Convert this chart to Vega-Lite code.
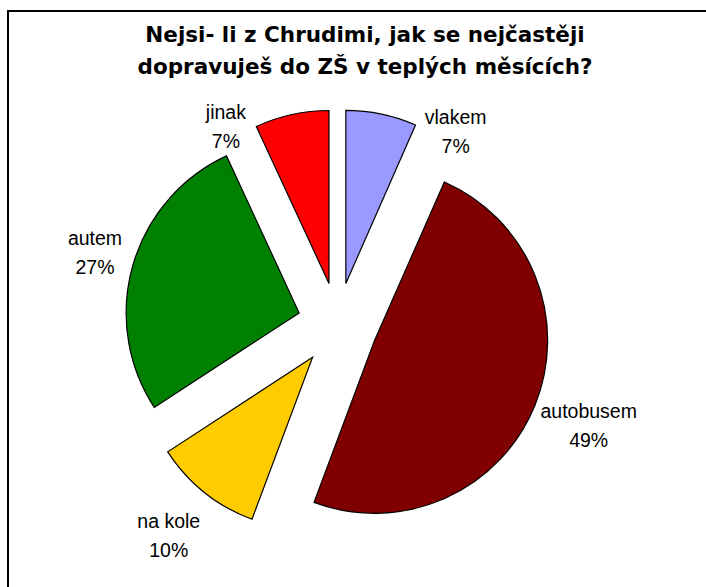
{
  "$schema": "https://vega.github.io/schema/vega-lite/v6.json",
  "width": 700,
  "height": 578,
  "autosize": {"type": "none"},
  "padding": {"left": 8, "top": 11, "right": -2, "bottom": -2},
  "background": "white",
  "config": {"view": {"stroke": null}},
  "title": {
    "text": ["Nejsi- li z Chrudimi, jak se nejčastěji", "dopravuješ do ZŠ v teplých měsících?"],
    "font": "DejaVu Sans",
    "fontWeight": "bold",
    "fontSize": 21.5,
    "lineHeight": 32,
    "color": "black",
    "anchor": "middle",
    "frame": "group",
    "baseline": "alphabetic",
    "offset": -85.2,
    "dx": 7
  },
  "layer": [
    {
      "data": {"values": [{"frame": "border"}]},
      "mark": {"type": "rect", "filled": false, "stroke": "black", "strokeWidth": 2},
      "encoding": {}
    },
    {
      "data": {
        "values": [
          {"cat": "vlakem", "value": 6.6, "order": 1},
          {"cat": "autobusem", "value": 49.1, "order": 2},
          {"cat": "na kole", "value": 10.1, "order": 3},
          {"cat": "autem", "value": 27.3, "order": 4},
          {"cat": "jinak", "value": 6.9, "order": 5}
        ]
      },
      "transform": [
        {"stack": "value", "groupby": [], "sort": [{"field": "order"}], "as": ["v0", "v1"]},
        {"calculate": "(datum.v0 + datum.v1) / 2", "as": "mid"},
        {"calculate": "datum.mid + (datum.mid < 8 ? 6.75 : datum.mid > 92 ? -5.9 : 0)", "as": "lmid"},
        {"calculate": "datum.cat + '\\n' + format(datum.value, '.0f') + '%'", "as": "label"}
      ],
      "layer": [
        {
          "mark": {
            "type": "arc",
            "outerRadius": 173,
            "stroke": "black",
            "strokeWidth": 1.2,
            "xOffset": {"expr": "-20.4 + 40 * sin(2 * PI * datum.mid / 100)"},
            "yOffset": {"expr": "24.5 - 42 * cos(2 * PI * datum.mid / 100)"}
          },
          "encoding": {
            "theta": {"field": "v0", "type": "quantitative", "stack": null, "scale": {"domain": [0, 100]}},
            "theta2": {"field": "v1"},
            "color": {
              "field": "cat",
              "type": "nominal",
              "scale": {
                "domain": ["vlakem", "autobusem", "na kole", "autem", "jinak"],
                "range": ["#9999FF", "#800000", "#FFCC00", "#008000", "#FF0000"]
              },
              "legend": null
            }
          }
        },
        {
          "mark": {
            "type": "text",
            "radius": {"expr": "(datum.mid < 8 || datum.mid > 92) ? 186 : 181.7 + 4.18 * length(datum.cat) * abs(sin(2 * PI * datum.lmid / 100)) + 38.5 * abs(cos(2 * PI * datum.lmid / 100))"},
            "align": "center",
            "baseline": "middle",
            "font": "Liberation Sans",
            "fontSize": 19.5,
            "lineHeight": 29,
            "lineBreak": "\n",
            "color": "black",
            "xOffset": {"expr": "-20.4 + 40 * sin(2 * PI * datum.mid / 100)"},
            "yOffset": {"expr": "9.3 - 42 * cos(2 * PI * datum.mid / 100)"}
          },
          "encoding": {
            "theta": {"field": "lmid", "type": "quantitative", "stack": null, "scale": {"domain": [0, 100]}},
            "text": {"field": "label", "type": "nominal"}
          }
        }
      ]
    }
  ]
}
